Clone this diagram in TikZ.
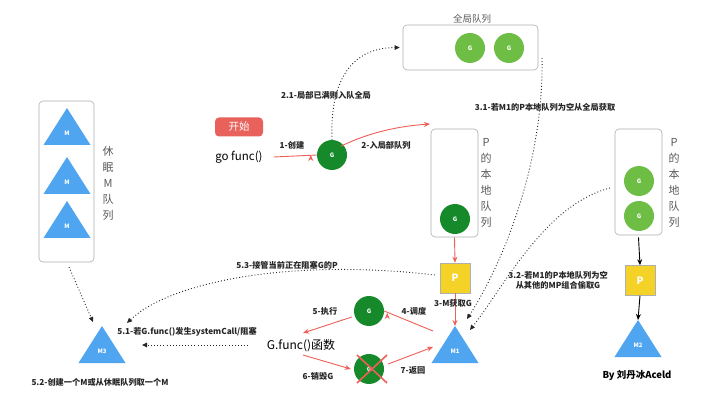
\documentclass[tikz,border=0pt]{standalone}
\usepackage{fontspec}
\setmainfont{Noto Sans CJK SC}
\usetikzlibrary{arrows.meta,calc}
\definecolor{redline}{RGB}{239,95,87}
\definecolor{startred}{RGB}{232,97,91}
\definecolor{dgreen}{RGB}{22,138,43}
\definecolor{lgreen}{RGB}{110,190,70}
\definecolor{triblue}{RGB}{80,165,240}
\definecolor{yellowP}{RGB}{245,210,40}
\definecolor{boxgray}{RGB}{175,175,175}
\definecolor{vgray}{RGB}{90,90,90}
\tikzset{
  lbl/.style={font=\fontsize{8.2}{10}\selectfont\bfseries, text=black!85, inner sep=1pt, align=center},
  qbox/.style={draw=boxgray, rounded corners=4pt, line width=0.6pt},
  gdark/.style={circle, fill=dgreen, minimum size=30pt, inner sep=0pt, text=white, font=\fontsize{6}{7}\selectfont\bfseries},
  glight/.style={circle, fill=lgreen, minimum size=30pt, inner sep=0pt, text=white, font=\fontsize{6}{7}\selectfont\bfseries},
  pbox/.style={fill=yellowP, draw=boxgray, line width=0.5pt, minimum size=30pt, inner sep=0pt, text=white, font=\fontsize{10}{12}\selectfont\bfseries},
  tlabel/.style={text=white, font=\fontsize{6}{7}\selectfont\bfseries, inner sep=0pt},
  vtext/.style={text=vgray, align=center, font=\fontsize{11}{16}\selectfont, inner sep=0pt},
  redarr/.style={draw=redline, line width=0.9pt, -{Stealth[length=6pt,width=5pt]}},
  blkarr/.style={draw=black, line width=0.9pt, -{Stealth[length=6pt,width=5pt]}},
  dotarr/.style={draw=black!85, line width=0.9pt, dash pattern=on 0.9pt off 2.2pt, -{Triangle[length=5pt,width=4.5pt]}}
}
\newcommand\Mtri[4]{%
  \fill[triblue] (#2,#3) -- (#2-23.5,#3+37) -- (#2+23.5,#3+37) -- cycle;
  \node[tlabel] (#1) at (#2,#3+25) {#4};
  \coordinate (#1-top) at (#2,#3);}
\begin{document}
\begin{tikzpicture}[x=1pt,y=-1pt]
\useasboundingbox (0,0) rectangle (721,401);
\fill[white] (0,0) rectangle (721,401);

% sleeping M queue
\draw[qbox] (39,101) rectangle (94,262);
\coordinate (sleepbot) at (69,267);
\Mtri{Ma}{67}{108}{M}
\Mtri{Mb}{67}{157}{M}
\Mtri{Mc}{67}{201}{M}
\node[vtext] (sleeplbl) at (108,183) {休\\眠\\M\\队\\列};

% M3
\Mtri{M3}{102}{326}{M3}
\node[lbl] (l52) at (100,382) {5.2-创建一个M或从休眠队列取一个M};
\draw[dotarr] (sleepbot) -- ($(M3-top)+(-9,-4)$);

% start
\node[fill=startred, rounded corners=4pt, minimum width=48pt, minimum height=19pt, text=white, font=\fontsize{10.5}{12}\selectfont] (start) at (239,127) {开始};
\node[font=\fontsize{11.5}{13}\selectfont, inner sep=1pt] (gofunc) at (239,157) {go func()};
\node[gdark] (G0) at (332,155) {G};
\draw[redarr] (gofunc.east) ++(10,0) coordinate (gfe) (gfe) -- (G0.west) ++(-6,0);
\node[lbl] (l1) at (292,145) {1-创建};

% global queue
\node[qbox, minimum width=135pt, minimum height=45pt] (gq) at (470.5,47.5) {};
\node[font=\fontsize{9.5}{11}\selectfont, text=vgray] (gqlbl) at (472,19) {全局队列};
\node[glight] (gg1) at (470,48) {G};
\node[glight] (gg2) at (509,48) {G};

\draw[dotarr] (G0.north) .. controls (330,90) and (345,48) .. ($(gq.west)+(-3,0)$);
\node[lbl] (l21) at (326,95) {2.1-局部已满则入队全局};

% local queue 1
\node[qbox, minimum width=47pt, minimum height=108pt] (lq1) at (454.5,183) {};
\node[vtext] (lq1lbl) at (486,183) {P\\的\\本\\地\\队\\列};
\node[gdark] (G1) at (455,219) {G};
\draw[redarr] ($(G0.north east)+(-2,2)$) .. controls (370,132) and (400,126) .. (430,124);
\node[lbl] (l2) at (386,145) {2-入局部队列};

\node[pbox] (P1) at (455,278) {P};
\draw[redarr] (lq1.south) -- (P1.north);

\node[lbl] (l31) at (545,107) {3.1-若M1的P本地队列为空从全局获取};

% M1
\Mtri{M1}{455}{326}{M1}
\draw[redarr] (P1.south) -- (M1-top);
\node[lbl] (l3) at (453,303) {3-M获取G};

% local queue 2
\node[qbox, minimum width=47pt, minimum height=106pt] (lq2) at (638.5,182) {};
\node[vtext] (lq2lbl) at (674,183) {P\\的\\本\\地\\队\\列};
\node[glight] (G2a) at (639,181) {G};
\node[glight] (G2b) at (639,216) {G};
\node[pbox] (P2) at (640,280.5) {P};
\draw[blkarr] (lq2.south) ++(0,2) coordinate (lq2b) (lq2b) -- (P2.north);
\Mtri{M2}{638}{320}{M2}
\draw[blkarr] (P2.south) -- (M2-top);
\node[font=\fontsize{9.5}{11}\selectfont\bfseries, inner sep=1pt] (by) at (637,375) {By 刘丹冰Aceld};

% 3.1 and 3.2 dotted
\coordinate (gqr) at (542,58);
\coordinate (m1a) at (467,319);
\coordinate (m1b) at (470,330);
\draw[dotarr] (gqr) .. controls (544,160) and (505,260) .. (m1a);
\coordinate (lq2l) at (610,188);
\draw[dotarr] (lq2l) .. controls (545,205) and (505,285) .. (m1b);
\node[lbl] (l32) at (558,280) {3.2-若M1的P本地队列为空\\从其他的MP组合偷取G};

% execution cycle
\node[gdark] (G3) at (369,311) {G};
\node[gdark] (G4) at (369,369) {G};
\draw[redline, line width=1.6pt] (357,355) -- (387,383) (387,355) -- (357,383);
\node[font=\fontsize{12}{14}\selectfont, inner sep=1pt] (gfn) at (301,346) {\textit{G}.func()函数};

\coordinate (m1l) at (433,331);
\draw[redarr] (m1l) -- (G3.east) ++(3,2);
\node[lbl] (l4) at (414,311) {4-调度};
\draw[redarr] ($(G3.west)+(-2,6)$) -- (303,333);
\node[lbl] (l5) at (325,311) {5-执行};
\draw[redarr] (303,355) -- ($(G4.west)+(-3,0)$);
\node[lbl] (l6) at (318,376) {6-销毁G};
\draw[redarr] ($(G4.east)+(4,-5)$) -- (433,347);
\node[lbl] (l7) at (413,370) {7-返回};

% 5.1 / 5.3
\draw[dotarr] ($(P1.west)+(-5,-3)$) .. controls (290,258) and (170,282) .. ($(M3-top)+(25,-3)$);
\node[lbl] (l53) at (287,265) {5.3-接管当前正在阻塞G的P};
\draw[dotarr] (248,345) -- (142,345);
\node[lbl] (l51) at (187,332) {5.1-若G.func()发生systemCall/阻塞};
\end{tikzpicture}
\end{document}
